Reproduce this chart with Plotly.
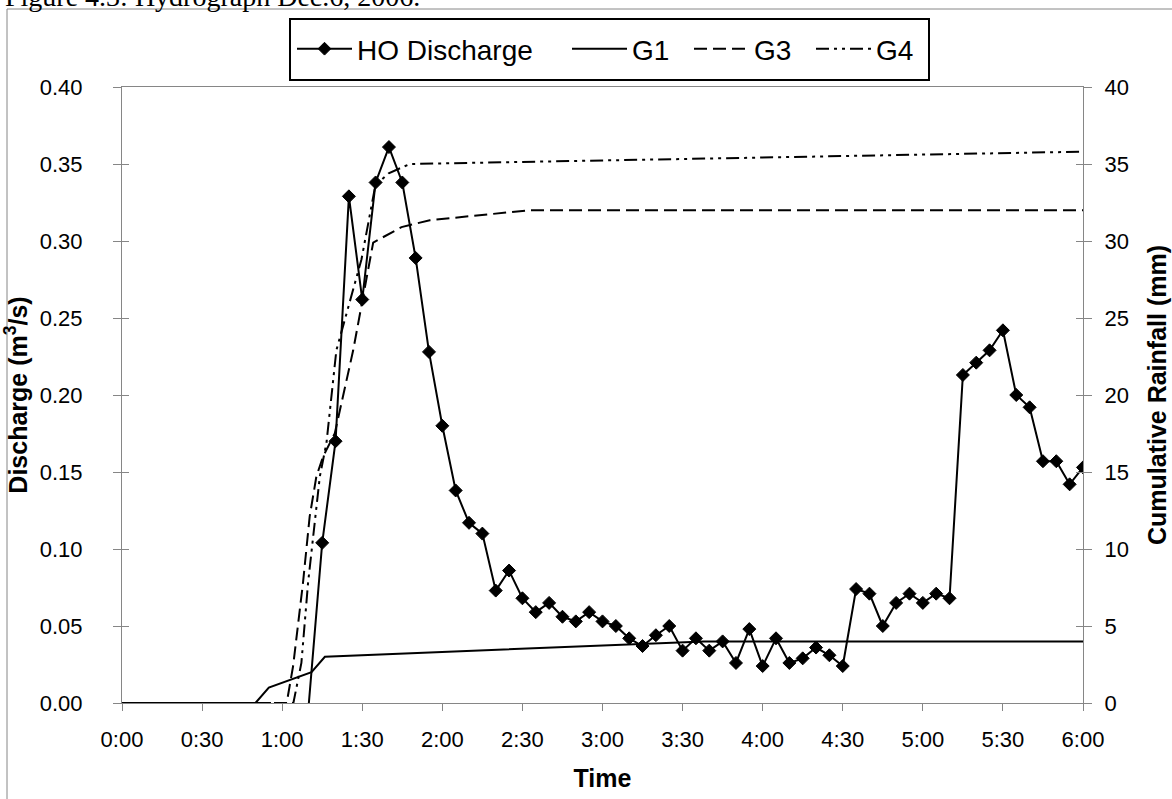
import plotly.graph_objects as go

# ---- data (minutes after 0:00) ----
ho_time = [70, 75, 80, 85, 90, 95, 100, 105, 110, 115, 120, 125, 130, 135, 140, 145, 150, 155,
           160, 165, 170, 175, 180, 185, 190, 195, 200, 205, 210, 215, 220, 225, 230, 235, 240,
           245, 250, 255, 260, 265, 270, 275, 280, 285, 290, 295, 300, 305, 310, 315, 320, 325,
           330, 335, 340, 345, 350, 355, 360]
ho_discharge = [0.0, 0.104, 0.170, 0.329, 0.262, 0.338, 0.361, 0.338, 0.289, 0.228, 0.180, 0.138,
                0.117, 0.110, 0.073, 0.086, 0.068, 0.059, 0.065, 0.056, 0.053, 0.059, 0.053, 0.050,
                0.042, 0.037, 0.044, 0.050, 0.034, 0.042, 0.034, 0.040, 0.026, 0.048, 0.024, 0.042,
                0.026, 0.029, 0.036, 0.031, 0.024, 0.074, 0.071, 0.050, 0.065, 0.071, 0.065, 0.071,
                0.068, 0.213, 0.221, 0.229, 0.242, 0.200, 0.192, 0.157, 0.157, 0.142, 0.153]

g1_time = [0, 50, 55, 71, 76, 218, 360]
g1_rain = [0, 0, 1.0, 2.0, 3.0, 4.0, 4.0]

g3_time = [0, 61.7, 64.1, 67.8, 70.3, 72.8, 75.3, 79.7, 86.6, 94.1, 104.7, 115.3, 152.8, 360]
g3_rain = [0, 0, 2.4, 7.8, 12.1, 14.7, 16.0, 17.5, 22.9, 29.9, 30.9, 31.35, 32.0, 32.0]

g4_time = [0, 64.2, 67.2, 69.7, 74.1, 76.6, 80.3, 89.7, 94.9, 99.9, 107.8, 152.8, 360]
g4_rain = [0, 0, 2.6, 7.8, 14.7, 16.9, 22.9, 28.8, 33.6, 34.4, 35.0, 35.15, 35.8]

tick_vals = [0, 30, 60, 90, 120, 150, 180, 210, 240, 270, 300, 330, 360]
tick_text = ["0:00", "0:30", "1:00", "1:30", "2:00", "2:30", "3:00", "3:30", "4:00", "4:30",
             "5:00", "5:30", "6:00"]

FONT = "Liberation Sans, Arial, sans-serif"
GRAY = "#868686"

# plot-area geometry in page pixels
W, H = 1172, 799
L, R, T, B = 122, 89, 87, 96
pw, ph = W - L - R, H - T - B


def px(x):
    return (x - L) / pw


def py(y):
    return (H - B - y) / ph


marker_sizes = [0] + [10] * (len(ho_time) - 1)

fig = go.Figure()
fig.add_trace(go.Scatter(
    x=ho_time, y=ho_discharge, name="HO Discharge", mode="lines+markers",
    line=dict(color="black", width=2),
    marker=dict(symbol="diamond", size=marker_sizes, color="black", opacity=1,
                line=dict(color="black", width=1)),
    legendwidth=205, yaxis="y"))
fig.add_trace(go.Scatter(
    x=g1_time, y=g1_rain, name="G1", mode="lines",
    line=dict(color="black", width=2), legendwidth=52, yaxis="y2"))
fig.add_trace(go.Scatter(
    x=g3_time, y=g3_rain, name="G3", mode="lines",
    line=dict(color="black", width=2, dash="13px,6px"), legendwidth=52, yaxis="y2"))
fig.add_trace(go.Scatter(
    x=g4_time, y=g4_rain, name="G4", mode="lines",
    line=dict(color="black", width=2, dash="13px,5px,3px,5px,3px,5px"), legendwidth=52,
    yaxis="y2"))
# carriers for the inner halves of the crossing tick marks
fig.add_trace(go.Scatter(x=[None], y=[None], yaxis="y3", showlegend=False, hoverinfo="skip"))
fig.add_trace(go.Scatter(x=[None], y=[None], yaxis="y4", showlegend=False, hoverinfo="skip"))

tickfont = dict(family=FONT, size=22, color="black")
titlefont = dict(family=FONT, size=25, color="black")

fig.update_layout(
    width=W, height=H,
    margin=dict(l=L, r=R, t=T, b=B, pad=0),
    paper_bgcolor="white", plot_bgcolor="white",
    showlegend=True,
    xaxis=dict(
        range=[0, 360], tickvals=tick_vals, ticktext=tick_text,
        ticks="outside", ticklen=7, tickcolor=GRAY, tickwidth=1,
        showline=True, linecolor=GRAY, linewidth=1, mirror=True,
        showgrid=False, zeroline=False, tickfont=tickfont,
        ticklabelstandoff=10,
        title=dict(text="<b>Time</b>", font=titlefont, standoff=18),
        automargin=False,
    ),
    yaxis=dict(
        range=[0, 0.4], dtick=0.05, tick0=0, tickformat=".2f",
        ticks="outside", ticklen=8, tickcolor=GRAY, tickwidth=1,
        showline=True, linecolor=GRAY, linewidth=1,
        showgrid=False, zeroline=False, tickfont=tickfont,
        ticklabelstandoff=26,
        title=dict(text="<b>Discharge (m<sup>3</sup>/s)</b>", font=titlefont, standoff=10),
        automargin=False,
    ),
    yaxis2=dict(
        range=[0, 40], dtick=5, tick0=0, overlaying="y", side="right",
        ticks="outside", ticklen=8, tickcolor=GRAY, tickwidth=1,
        showline=True, linecolor=GRAY, linewidth=1,
        showgrid=False, zeroline=False, tickfont=tickfont,
        ticklabelstandoff=8,
        title=dict(text="<b>Cumulative Rainfall (mm)</b>", font=titlefont, standoff=20),
        automargin=False,
    ),
    yaxis3=dict(
        range=[0, 0.4], dtick=0.05, tick0=0, overlaying="y", side="left",
        ticks="inside", ticklen=7, tickcolor=GRAY, tickwidth=1,
        showticklabels=False, showline=False, showgrid=False, zeroline=False,
    ),
    yaxis4=dict(
        range=[0, 40], dtick=5, tick0=0, overlaying="y", side="right",
        ticks="inside", ticklen=7, tickcolor=GRAY, tickwidth=1,
        showticklabels=False, showline=False, showgrid=False, zeroline=False,
    ),
    legend=dict(
        orientation="h", x=px(292), y=py(24), xanchor="left", yanchor="top",
        borderwidth=0, bgcolor="rgba(0,0,0,0)",
        font=dict(family=FONT, size=28, color="black"),
        itemwidth=55, tracegroupgap=0,
    ),
    shapes=[
        # outer chart border (only its top and left edges fall on the page)
        dict(type="rect", xref="paper", yref="paper",
             x0=px(7), y0=py(9), x1=px(1200), y1=py(830),
             line=dict(color=GRAY, width=1), fillcolor="rgba(0,0,0,0)", layer="below"),
        # legend frame
        dict(type="rect", xref="paper", yref="paper",
             x0=px(290), y0=py(19), x1=px(929), y1=py(80),
             line=dict(color="black", width=2), fillcolor="white", layer="below"),
    ],
    annotations=[
        dict(text="Figure 4.3: Hydrograph Dec.6, 2006.", xref="paper", yref="paper",
             x=px(3), y=py(-4), xanchor="left", yanchor="middle", showarrow=False,
             font=dict(family="Liberation Serif, Times New Roman, serif", size=28, color="black")),
    ],
)

fig.write_html("out.html")
